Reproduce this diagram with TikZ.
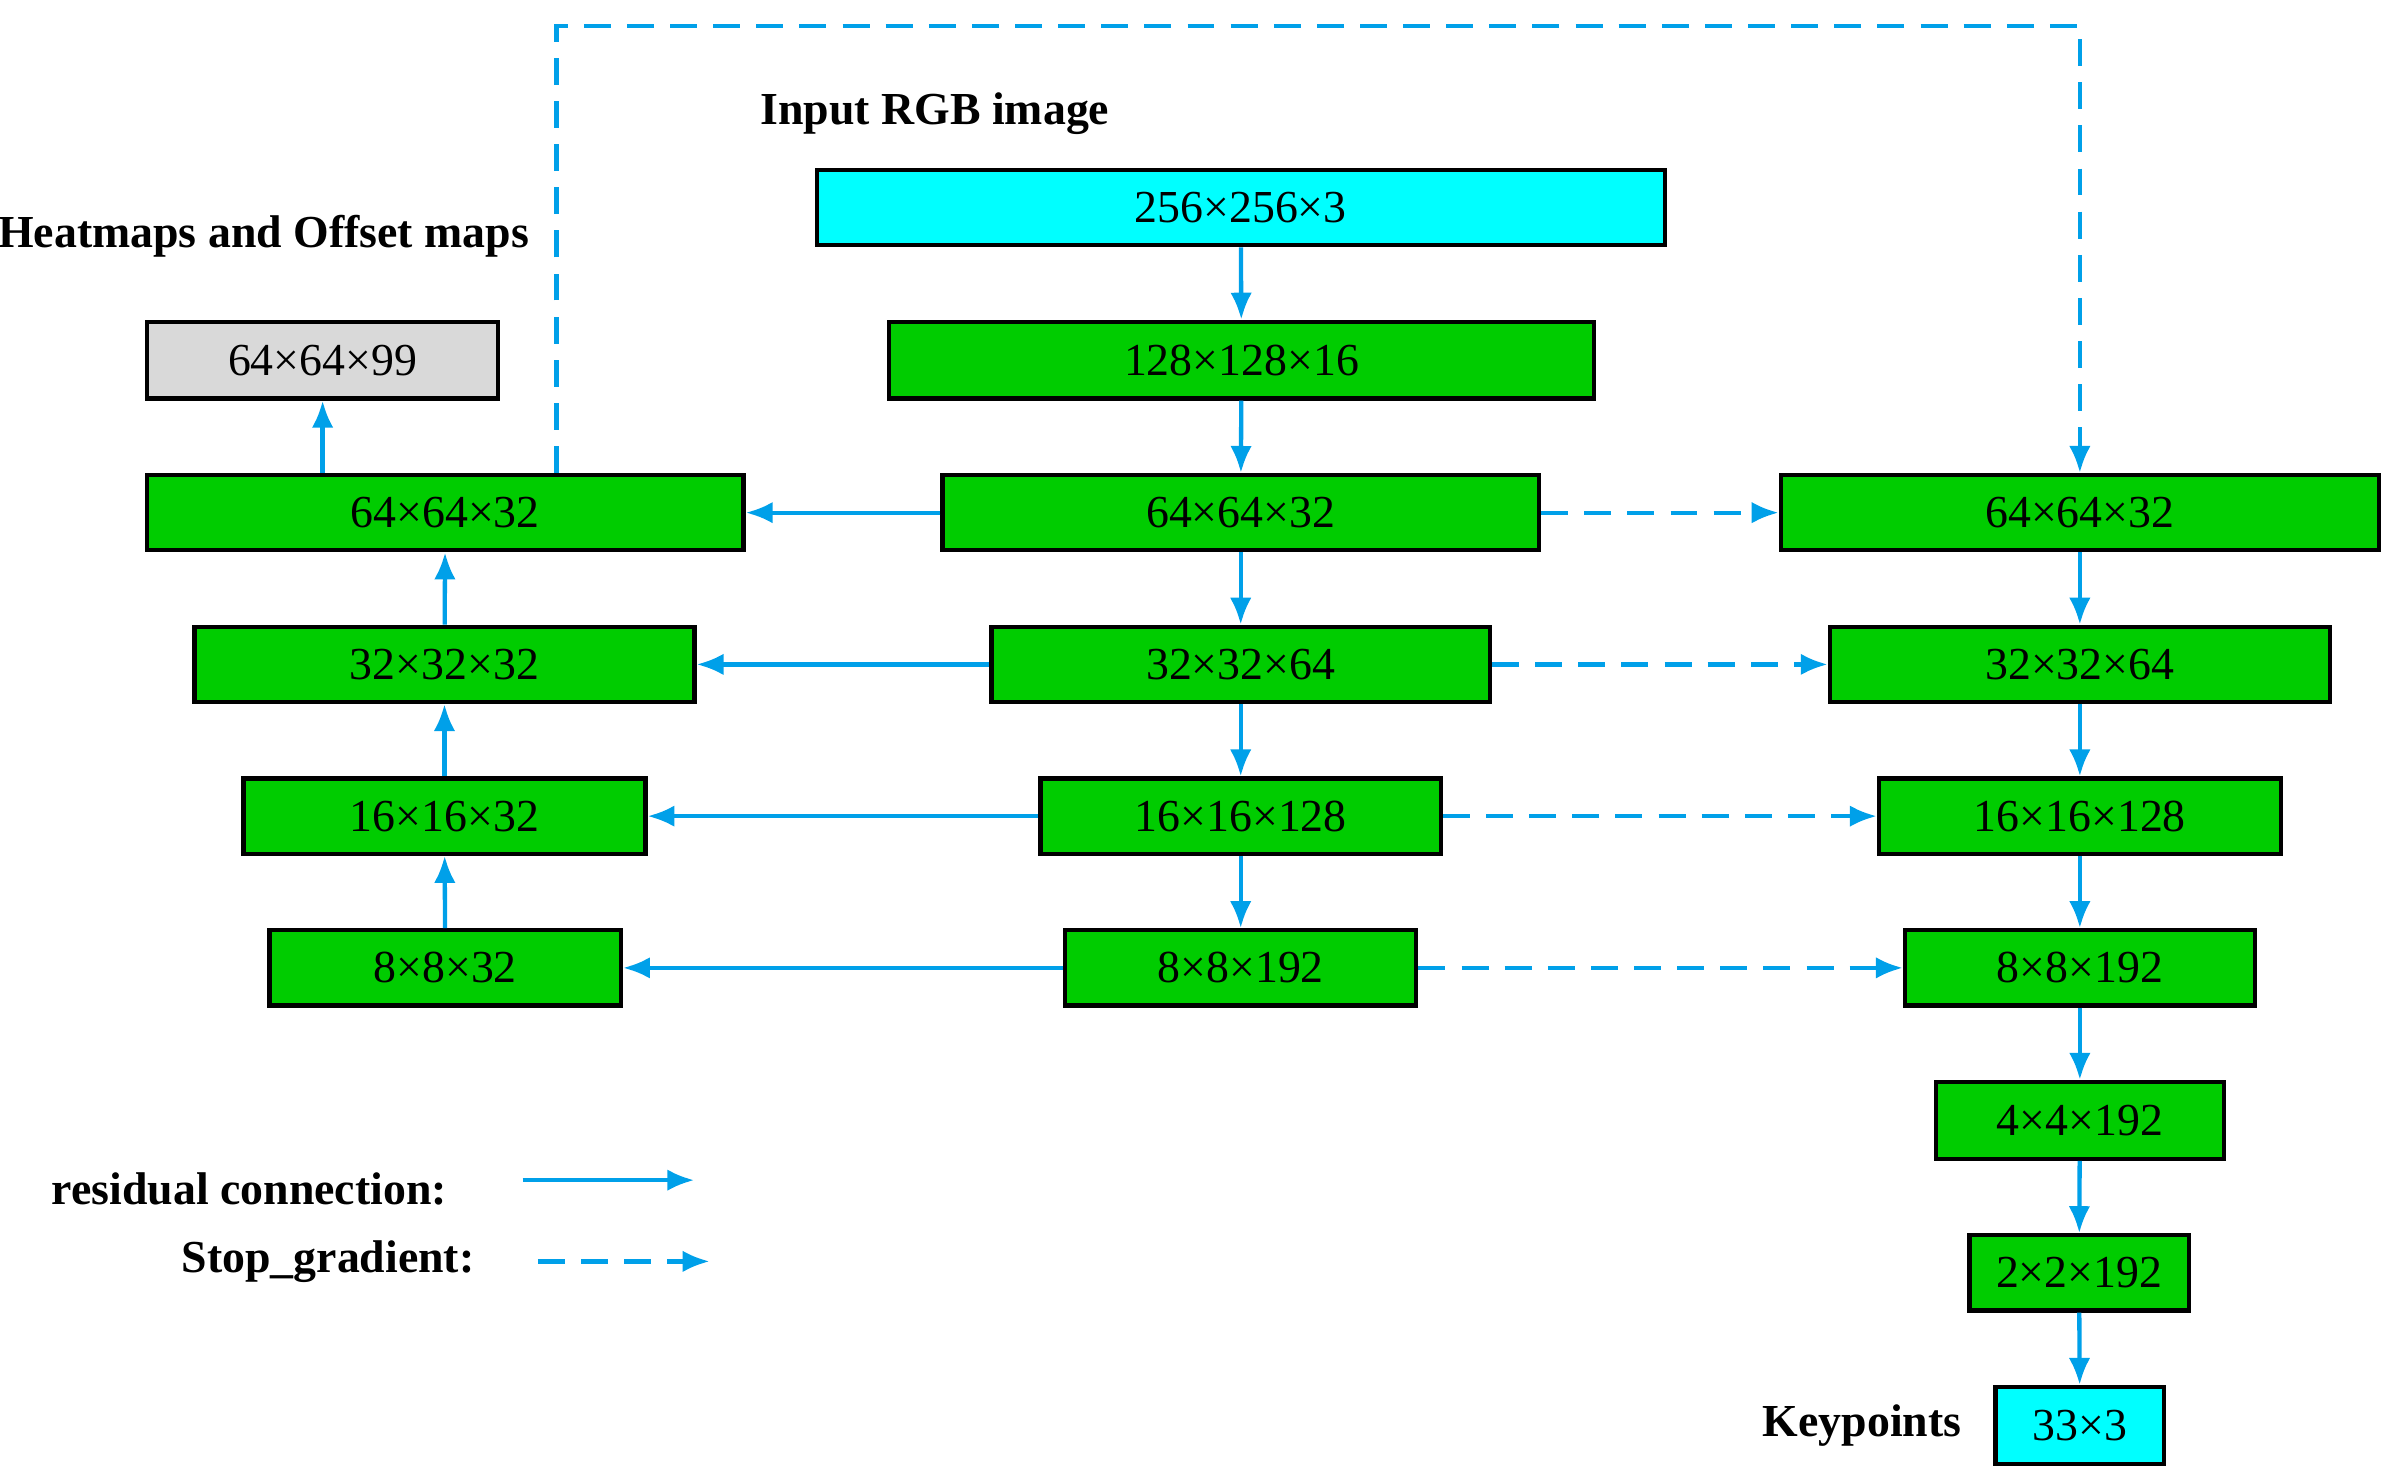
\documentclass[tikz,border=0pt]{standalone}
\usepackage{fontspec}
\setmainfont{Liberation Serif}
\usetikzlibrary{arrows.meta}
\definecolor{grn}{RGB}{0,204,0}
\definecolor{cyn}{RGB}{0,255,255}
\definecolor{gry}{RGB}{217,217,217}
\definecolor{arr}{RGB}{0,160,233}
\tikzset{
 box/.style={draw=black,line width=0.8pt,inner sep=0pt,font=\fontsize{8.5}{10}\selectfont},
 res/.style={draw=arr,line width=0.8pt,-{Latex[length=5pt,width=4pt]}},
 sg/.style={res,dash pattern=on 5pt off 3pt},
 lab/.style={font=\bfseries\fontsize{8.5}{10}\selectfont}
}
\newcommand\bx[7]{\node[box,fill=#7,minimum width={(#4-#2)*0.28453pt},minimum height={(#5-#3)*0.28453pt}] (#1) at ({(#2+#4)/2},{(#3+#5)/2}) {#6};}
\begin{document}
\begin{tikzpicture}[x={(0.01cm,0)},y={(0,-0.01cm)}]
\useasboundingbox (0,0) rectangle (1560,965);
\bx{in}{533}{111}{1086}{160}{256×256×3}{cyn}
\bx{c1}{580}{210}{1040}{260}{128×128×16}{grn}
\bx{c2}{615}{310}{1004}{359}{64×64×32}{grn}
\bx{c3}{647}{409}{972}{458}{32×32×64}{grn}
\bx{c4}{679}{508}{940}{557}{16×16×128}{grn}
\bx{c5}{695}{607}{924}{656}{8×8×192}{grn}
\bx{hm}{96}{210}{325}{260}{64×64×99}{gry}
\bx{l2}{96}{310}{485}{359}{64×64×32}{grn}
\bx{l3}{127}{409}{453}{458}{32×32×32}{grn}
\bx{l4}{159}{508}{421}{557}{16×16×32}{grn}
\bx{l5}{176}{607}{405}{656}{8×8×32}{grn}
\bx{r2}{1162}{310}{1552}{359}{64×64×32}{grn}
\bx{r3}{1194}{409}{1520}{458}{32×32×64}{grn}
\bx{r4}{1226}{508}{1488}{557}{16×16×128}{grn}
\bx{r5}{1243}{607}{1471}{656}{8×8×192}{grn}
\bx{r6}{1263}{706}{1451}{756}{4×4×192}{grn}
\bx{r7}{1285}{806}{1428}{855}{2×2×192}{grn}
\bx{kp}{1302}{905}{1412}{955}{33×3}{cyn}
\node[lab] at (610,74) {Input RGB image};
\node[lab] at (172,154) {Heatmaps and Offset maps};
\node[lab,anchor=east] at (304,776) {residual connection:};
\node[lab,anchor=east] at (322,823) {Stop\_gradient:};
\node[lab] (kpl) at (1215,930) {Keypoints};
\coordinate (a1) at (341,770); \coordinate (a2) at (453,770);
\coordinate (b1) at (351,823); \coordinate (b2) at (463,823);
\draw[res] (a1) -- (a2);
\draw[sg] (b1) -- (b2);
\foreach \a/\b in {in/c1,c1/c2,c2/c3,c3/c4,c4/c5,r2/r3,r3/r4,r4/r5,r5/r6,r6/r7,r7/kp}
  \draw[res] (\a) -- (\b);
\foreach \a/\b in {l5/l4,l4/l3,l3/l2}
  \draw[res] (l5.north -| \a) (\a) -- (\b);
\draw[res] (l2.north -| hm) -- (hm);
\foreach \a/\b in {c2/l2,c3/l3,c4/l4,c5/l5} \draw[res] (\a) -- (\b);
\foreach \a/\b in {c2/r2,c3/r3,c4/r4,c5/r5} \draw[sg] (\a) -- (\b);
\draw[sg] ([xshift={(363-290.5)*0.28453pt}]l2.north) |- (1357,17) -- (r2.north);
\end{tikzpicture}
\end{document}
